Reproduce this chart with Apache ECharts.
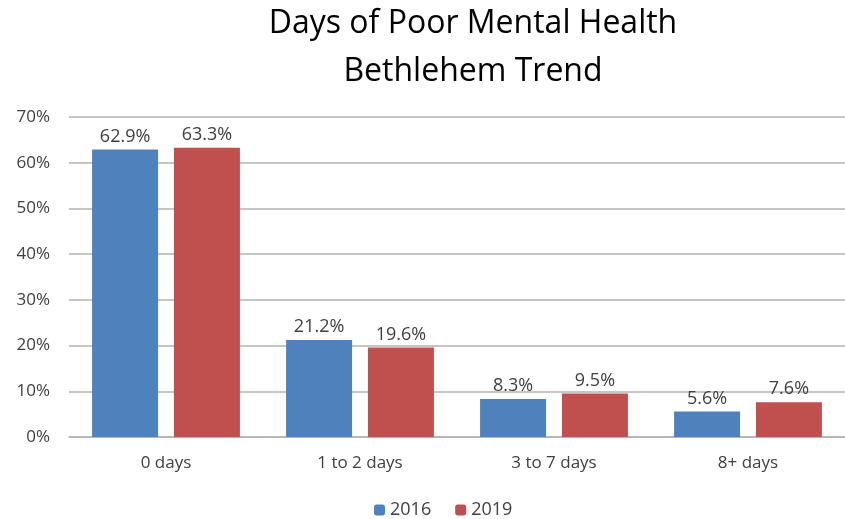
<!DOCTYPE html>
<html><head><meta charset="utf-8">
<script src="https://cdn.jsdelivr.net/npm/echarts@6/dist/echarts.min.js"></script>
<style>html,body{margin:0;padding:0;background:#fff}#c{width:845px;height:519px}</style>
</head><body><div id="c"></div>
<script>
var categories = ['0 days', '1 to 2 days', '3 to 7 days', '8+ days'];
var values2016 = [62.9, 21.2, 8.3, 5.6];
var values2019 = [63.3, 19.6, 9.5, 7.6];
var seriesNames = ['2016', '2019'];
var titleText = 'Days of Poor Mental Health\nBethlehem Trend';

var font = '"Open Sans", sans-serif';
var chart = echarts.init(document.getElementById('c'));
var labelStyle = {show: true, position: 'top', distance: 4, color: '#404040', fontSize: 18, fontFamily: font,
  formatter: function(p){ return p.value.toFixed(1) + '%'; }};
chart.setOption({
  animation: false,
  title: {text: titleText, left: 473, top: 0, padding: 0, textAlign: 'center',
    textStyle: {fontFamily: font, fontSize: 32, fontWeight: 'normal', color: '#000', lineHeight: 48}},
  legend: {bottom: 0, left: 374, padding: 0, itemWidth: 11, itemHeight: 11, itemGap: 24,
    textStyle: {fontFamily: font, fontSize: 18, color: '#404040'},
    data: seriesNames},
  grid: {left: 69, top: 117, width: 784, height: 320},
  xAxis: {type: 'category', data: categories,
    axisLine: {show: true, lineStyle: {color: '#b3b3b3', width: 1.5}},
    axisTick: {show: false},
    axisLabel: {fontFamily: font, fontSize: 17, color: '#404040', margin: 18}},
  yAxis: {type: 'value', min: 0, max: 70, interval: 10,
    axisLine: {show: false}, axisTick: {show: false},
    splitLine: {lineStyle: {color: '#b3b3b3', width: 1.5}},
    axisLabel: {fontFamily: font, fontSize: 17, color: '#404040', margin: 19,
      formatter: function(v){ return v + '%'; }}},
  series: [
    {name: seriesNames[0], type: 'bar', data: values2016, barWidth: 66, barGap: '24%',
     itemStyle: {color: '#4f81bd'}, label: labelStyle},
    {name: seriesNames[1], type: 'bar', data: values2019, barWidth: 66,
     itemStyle: {color: '#c0504d'}, label: labelStyle}
  ]
});
</script></body></html>
